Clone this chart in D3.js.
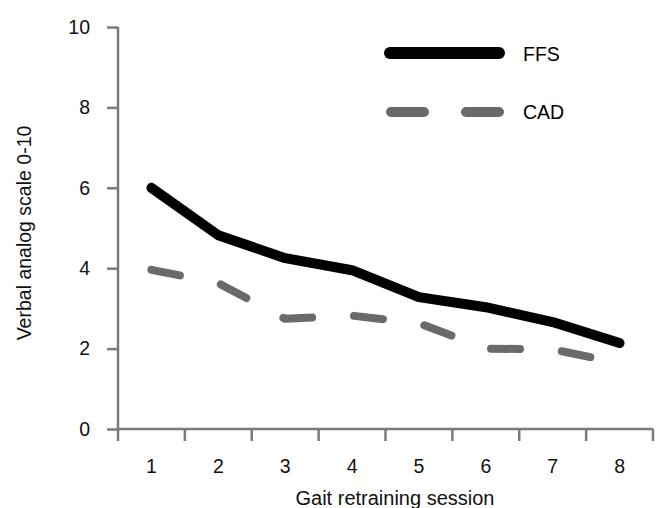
<!DOCTYPE html>
<html><head><meta charset="utf-8">
<script src="https://cdn.jsdelivr.net/npm/d3@7"></script>
<style>body{margin:0;background:#fff}svg{display:block;font-family:"Liberation Sans",Arial,sans-serif}</style>
</head><body><svg id="c" width="656" height="508"></svg>
<script>
const sessions = ["1","2","3","4","5","6","7","8"];
const ffs = [6.0, 4.82, 4.25, 3.95, 3.28, 3.03, 2.66, 2.14];
const cad = [3.96, 3.63, 2.74, 2.82, 2.63, 2.0, 1.98, 1.64];
const yTicks = [0, 2, 4, 6, 8, 10];
const seriesNames = ["FFS", "CAD"];

const svg = d3.select("#c");
const x = d3.scaleBand().domain(sessions).range([118, 653]);
const y = d3.scaleLinear().domain([0, 10]).range([429, 27]);
const axisColor = "#7a7a7a";
const fs = 19.5;

// y axis
const ya = svg.append("g").attr("transform", "translate(118,0)")
  .call(d3.axisLeft(y).tickValues(yTicks).tickSize(11).tickPadding(17).tickSizeOuter(0));
// x axis with ticks at band edges
const xa = svg.append("g").attr("transform", "translate(0,429)")
  .call(d3.axisBottom(x).tickSize(0).tickPadding(30));
xa.selectAll(".tick").append("line")
  .attr("x1", x.bandwidth()/2).attr("x2", x.bandwidth()/2)
  .attr("y1", 0).attr("y2", 12);
xa.append("line").attr("x1", 118).attr("x2", 118).attr("y1", 0).attr("y2", 12);
[ya, xa].forEach(g => {
  g.selectAll("path.domain").attr("stroke", axisColor).attr("stroke-width", 2.5);
  g.selectAll("line").attr("stroke", axisColor).attr("stroke-width", 2.5);
  g.selectAll("text").attr("font-size", fs).attr("fill", "#111")
    .attr("font-family", '"Liberation Sans",Arial,sans-serif');
});
ya.select("path.domain").attr("d", "M0,27V429");
xa.select("path.domain").attr("d", "M118,0H653");

const line = d3.line().x((d, i) => x(sessions[i]) + x.bandwidth()/2).y(d => y(d));

svg.append("path").datum(cad).attr("d", line).attr("fill", "none")
  .attr("stroke", "#6a6a6a").attr("stroke-width", 8)
  .attr("stroke-linecap", "round").attr("stroke-linejoin", "round")
  .attr("stroke-dasharray", "29,42");
svg.append("path").datum(ffs).attr("d", line).attr("fill", "none")
  .attr("stroke", "#000").attr("stroke-width", 10)
  .attr("stroke-linecap", "round").attr("stroke-linejoin", "round");

// legend
const leg = svg.append("g");
leg.append("line").attr("x1", 390).attr("x2", 499).attr("y1", 53).attr("y2", 53)
  .attr("stroke", "#000").attr("stroke-width", 12).attr("stroke-linecap", "round");
leg.append("line").attr("x1", 391).attr("x2", 499).attr("y1", 112).attr("y2", 112)
  .attr("stroke", "#6a6a6a").attr("stroke-width", 10).attr("stroke-linecap", "round")
  .attr("stroke-dasharray", "33,42");
leg.append("text").attr("x", 523).attr("y", 61).attr("font-size", fs).text(seriesNames[0]);
leg.append("text").attr("x", 523).attr("y", 119).attr("font-size", fs).text(seriesNames[1]);

// titles
svg.append("text").attr("x", 395).attr("y", 505).attr("text-anchor", "middle")
  .attr("font-size", 20).attr("fill", "#111").text("Gait retraining session");
svg.append("text").attr("transform", "translate(31,233) rotate(-90)").attr("text-anchor", "middle")
  .attr("font-size", fs).attr("fill", "#111").text("Verbal analog scale 0-10");
</script></body></html>
